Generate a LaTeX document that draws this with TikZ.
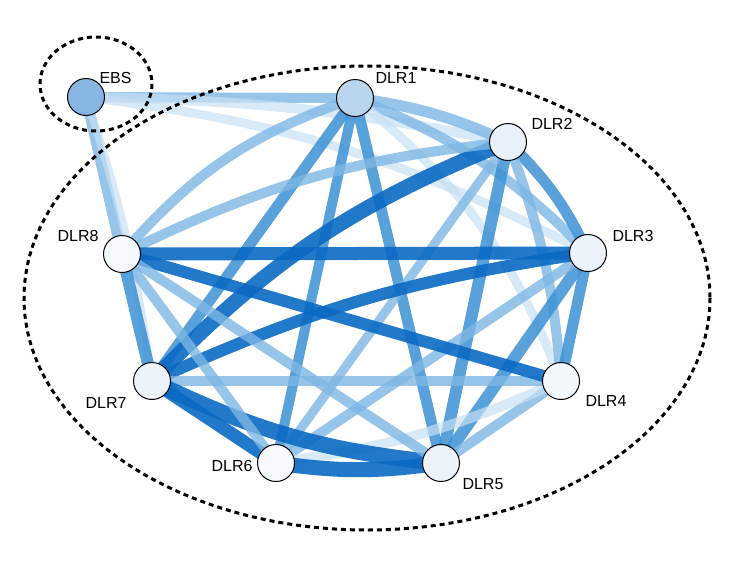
\documentclass[tikz,border=0pt]{standalone}
\usepackage{fontspec}
\setmainfont{Liberation Sans}
\definecolor{cd}{RGB}{10,105,195}
\definecolor{cm}{RGB}{60,145,212}
\definecolor{cl}{RGB}{125,182,228}
\definecolor{cv}{RGB}{200,223,243}
\begin{document}
\begin{tikzpicture}[x=1pt,y=-1pt,
  nd/.style={circle,draw=black,line width=1pt,minimum size=37pt,inner sep=0pt},
  lb/.style={font=\fontsize{16}{16}\selectfont},
  e/.style={line width=#1, draw=cd, opacity=0.9},
  f/.style={line width=#1, draw=cm, opacity=0.85},
  g/.style={line width=#1, draw=cl, opacity=0.8},
  h/.style={line width=#1, draw=cv, opacity=0.7},
  dsh/.style={draw=black,line width=3pt,dash pattern=on 5pt off 4pt}]
\useasboundingbox (0,0) rectangle (739,571);
\coordinate (cE) at (86,97);
\coordinate (c1) at (355,98);
\coordinate (c2) at (508,142);
\coordinate (c3) at (588,253);
\coordinate (c4) at (561,381);
\coordinate (c5) at (441,463);
\coordinate (c6) at (276,463);
\coordinate (c7) at (152,381);
\coordinate (c8) at (122,254);
% edges
\draw[g=10pt] (cE) -- (c1);
\draw[h=10pt] (cE) to[bend left=5] (c2);
\draw[h=9pt] (cE) to[bend left=10] (c3);
\draw[g=11pt] (cE) -- (c8);
\draw[h=8pt] (cE) to[bend left=5] (c7);
\draw[g=11pt] (c1) to[bend left=8] (c2);
\draw[g=10pt] (c1) to[bend left=12] (c3);
\draw[h=9pt] (c1) to[bend left=15] (c4);
\draw[f=11pt] (c1) -- (c5);
\draw[f=10pt] (c1) -- (c6);
\draw[f=11pt] (c1) -- (c7);
\draw[g=10pt] (c1) to[bend right=15] (c8);
\draw[f=11pt] (c2) to[bend left=10] (c3);
\draw[g=10pt] (c2) to[bend left=8] (c4);
\draw[f=12pt] (c2) -- (c5);
\draw[g=9pt] (c2) -- (c6);
\draw[e=15pt] (c2) to[bend right=12] (c7);
\draw[g=10pt] (c2) to[bend right=10] (c8);
\draw[f=11pt] (c3) -- (c4);
\draw[f=12pt] (c3) -- (c5);
\draw[g=10pt] (c3) -- (c6);
\draw[e=12pt] (c3) to[bend right=8] (c7);
\draw[e=13pt] (c3) -- (c8);
\draw[g=10pt] (c4) -- (c5);
\draw[h=10pt] (c4) to[bend left=8] (c6);
\draw[g=10pt] (c4) -- (c7);
\draw[e=12pt] (c4) -- (c8);
\draw[e=15pt] (c5) to[bend left=8] (c6);
\draw[e=16pt] (c5) to[bend left=10] (c7);
\draw[g=10pt] (c5) -- (c8);
\draw[e=13pt] (c6) -- (c7);
\draw[g=10pt] (c6) -- (c8);
\draw[f=12pt] (c7) -- (c8);
% nodes
\node[nd,fill={rgb,255:red,135;green,182;blue,226}] (E) at (cE) {};
\node[nd,fill={rgb,255:red,186;green,214;blue,238}] (n1) at (c1) {};
\node[nd,fill={rgb,255:red,232;green,241;blue,250}] (n2) at (c2) {};
\node[nd,fill={rgb,255:red,236;green,243;blue,251}] (n3) at (c3) {};
\node[nd,fill={rgb,255:red,243;green,248;blue,253}] (n4) at (c4) {};
\node[nd,fill={rgb,255:red,236;green,243;blue,251}] (n5) at (c5) {};
\node[nd,fill={rgb,255:red,246;green,250;blue,254}] (n6) at (c6) {};
\node[nd,fill={rgb,255:red,236;green,243;blue,251}] (n7) at (c7) {};
\node[nd,fill={rgb,255:red,246;green,250;blue,254}] (n8) at (c8) {};
\node[lb,anchor=west] at (96,78) {EBS};
\node[lb,anchor=west] at (372,78) {DLR1};
\node[lb,anchor=west] at (528,124) {DLR2};
\node[lb,anchor=west] at (609,236) {DLR3};
\node[lb,anchor=west] at (582,401) {DLR4};
\node[lb,anchor=west] at (459,484) {DLR5};
\node[lb,anchor=east] at (256,466) {DLR6};
\node[lb,anchor=east] at (130,403) {DLR7};
\node[lb,anchor=east] at (102,236) {DLR8};
\draw[dsh] (367,298) ellipse [x radius=343, y radius=232];
\draw[dsh] (96,84) ellipse [x radius=56, y radius=47];
\end{tikzpicture}
\end{document}
